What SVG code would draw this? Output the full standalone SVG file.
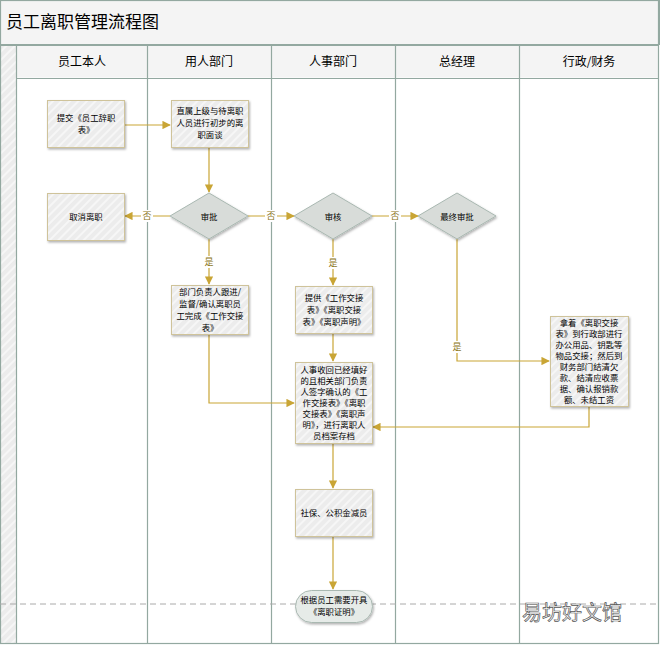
<svg xmlns="http://www.w3.org/2000/svg" width="660" height="645" viewBox="0 0 660 645">
<defs>
<pattern id="h" width="6" height="6" patternUnits="userSpaceOnUse" patternTransform="rotate(45)"><rect width="6" height="6" fill="#ececec"/><rect width="2" height="6" fill="#f6f6f6"/></pattern>
<marker id="a" viewBox="0 0 10 10" refX="9" refY="5" markerWidth="7" markerHeight="7" orient="auto"><path d="M0,0L10,5L0,10z" fill="#c9a535"/></marker>
<filter id="s" x="-10%" y="-10%" width="130%" height="130%"><feDropShadow dx="1" dy="1.5" stdDeviation="1" flood-opacity="0.3"/></filter>
</defs>
<style>
text{font-family:"Noto Sans CJK SC",sans-serif;font-size:8.4px;fill:#000;text-anchor:middle}
.b{fill:url(#h);stroke:#cfc39a;stroke-width:1;filter:url(#s)}
.d{fill:#d8dcd9;stroke:#a9b8b1;stroke-width:1;filter:url(#s)}
.l{fill:none;stroke:#c9a535;stroke-width:1.2}
.lane{stroke:#93a8a0;stroke-width:1.2;fill:none}
.hd{font-size:12px}
.lb{fill:#8a7420;font-size:9px}
</style>
<rect width="660" height="645" fill="#fff"/>
<rect x="0.5" y="0.5" width="659" height="44" fill="#f4f4f4" stroke="#93a8a0"/>
<text x="6" y="28" style="font-size:17px;text-anchor:start">员工离职管理流程图</text>
<rect x="0.5" y="45" width="16" height="598" fill="url(#h)"/>
<rect x="16.5" y="45.5" width="642" height="32" fill="#f4f4f4"/>
<g class="lane">
<rect x="0.5" y="0.5" width="658" height="643"/>
<line x1="0" y1="45.5" x2="659" y2="45.5"/>
<line x1="16.5" y1="78.5" x2="659" y2="78.5"/>
<line x1="16.5" y1="45" x2="16.5" y2="644"/>
<line x1="147.5" y1="45" x2="147.5" y2="644"/>
<line x1="271.5" y1="45" x2="271.5" y2="644"/>
<line x1="395.5" y1="45" x2="395.5" y2="644"/>
<line x1="519.5" y1="45" x2="519.5" y2="644"/>
</g>
<text class="hd" x="82" y="66">员工本人</text>
<text class="hd" x="209" y="66">用人部门</text>
<text class="hd" x="333" y="66">人事部门</text>
<text class="hd" x="457" y="66">总经理</text>
<text class="hd" x="589" y="66">行政/财务</text>
<line x1="0" y1="604" x2="659" y2="604" stroke="#aaa" stroke-dasharray="6,4"/>
<g id="connectors">
<path class="l" d="M124,125H170" marker-end="url(#a)"/>
<path class="l" d="M209,147V192" marker-end="url(#a)"/>
<path class="l" d="M170,216H125" marker-end="url(#a)"/>
<path class="l" d="M248,216H294" marker-end="url(#a)"/>
<path class="l" d="M372,216H418" marker-end="url(#a)"/>
<path class="l" d="M209,239V284" marker-end="url(#a)"/>
<path class="l" d="M333,239V285" marker-end="url(#a)"/>
<path class="l" d="M457,239V361H549" marker-end="url(#a)"/>
<path class="l" d="M209,334V403H294" marker-end="url(#a)"/>
<path class="l" d="M333,333V361" marker-end="url(#a)"/>
<path class="l" d="M589,406V427H373" marker-end="url(#a)"/>
<path class="l" d="M333,443V488" marker-end="url(#a)"/>
<path class="l" d="M333,536V589" marker-end="url(#a)"/>
<rect x="141" y="210" width="12" height="12" fill="#fff"/><text class="lb" x="147" y="219">否</text>
<rect x="265" y="210" width="12" height="12" fill="#fff"/><text class="lb" x="271" y="219">否</text>
<rect x="389" y="210" width="12" height="12" fill="#fff"/><text class="lb" x="395" y="219">否</text>
<rect x="203" y="256" width="12" height="12" fill="#fff"/><text class="lb" x="209" y="265">是</text>
<rect x="327" y="257" width="12" height="12" fill="#fff"/><text class="lb" x="333" y="266">是</text>
<rect x="451" y="341" width="12" height="12" fill="#fff"/><text class="lb" x="457" y="350">是</text>
</g>
<g id="n1"><rect class="b" x="47.5" y="100.5" width="77" height="47"/><text x="86" y="121">提交《员工辞职</text><text x="86" y="133">表》</text></g>
<g id="n2"><rect class="b" x="171.5" y="100.5" width="77" height="47"/><text x="210" y="114">直属上级与待离职</text><text x="210" y="126">人员进行初步的离</text><text x="210" y="138">职面谈</text></g>
<g id="n3"><rect class="b" x="47.5" y="193.5" width="77" height="47"/><text x="86" y="220">取消离职</text></g>
<g id="n4"><path class="d" d="M209,193L248,216L209,239L170,216Z"/><text x="209" y="220">审批</text></g>
<g id="n5"><path class="d" d="M333,193L372,216L333,239L294,216Z"/><text x="333" y="220">审核</text></g>
<g id="n6"><path class="d" d="M457,193L496,216L457,239L418,216Z"/><text x="457" y="220">最终审批</text></g>
<g id="n7"><rect class="b" x="171.5" y="285.5" width="77" height="49"/><text x="210" y="295">部门负责人跟进/</text><text x="210" y="307">监督/确认离职员</text><text x="210" y="319">工完成《工作交接</text><text x="210" y="331">表》</text></g>
<g id="n8"><rect class="b" x="295.5" y="286.5" width="77" height="47"/><text x="334" y="301">提供《工作交接</text><text x="334" y="313">表》《离职交接</text><text x="334" y="325">表》《离职声明》</text></g>
<g id="n9"><rect class="b" x="295.5" y="362.5" width="77" height="81"/>
<text x="334" y="373">人事收回已经填好</text><text x="334" y="384">的且相关部门负责</text><text x="334" y="395">人签字确认的《工</text><text x="334" y="406">作交接表》《离职</text><text x="334" y="417">交接表》《离职声</text><text x="334" y="428">明》，进行离职人</text><text x="334" y="439">员档案存档</text></g>
<g id="n10"><rect class="b" x="550.5" y="316.5" width="78" height="90"/>
<text x="589" y="326">拿着《离职交接</text><text x="589" y="337">表》到行政部进行</text><text x="589" y="348">办公用品、钥匙等</text><text x="589" y="359">物品交接；然后到</text><text x="589" y="370">财务部门结清欠</text><text x="589" y="381">款、结清应收票</text><text x="589" y="392">据、确认报销款</text><text x="589" y="403">额、未结工资</text></g>
<g id="n11"><rect class="b" x="295.5" y="489.5" width="77" height="47"/><text x="334" y="516">社保、公积金减员</text></g>
<g id="n12"><rect x="295.5" y="590.5" width="77" height="32" rx="16" fill="#e6ebe8" stroke="#a9b8b1" filter="url(#s)"/><text x="334" y="603">根据员工需要开具</text><text x="334" y="615">《离职证明》</text></g>
<text x="572" y="620" style="font-size:20px;fill:#ffffff;stroke:#555;stroke-width:0.7">易坊好文馆</text>
</svg>
